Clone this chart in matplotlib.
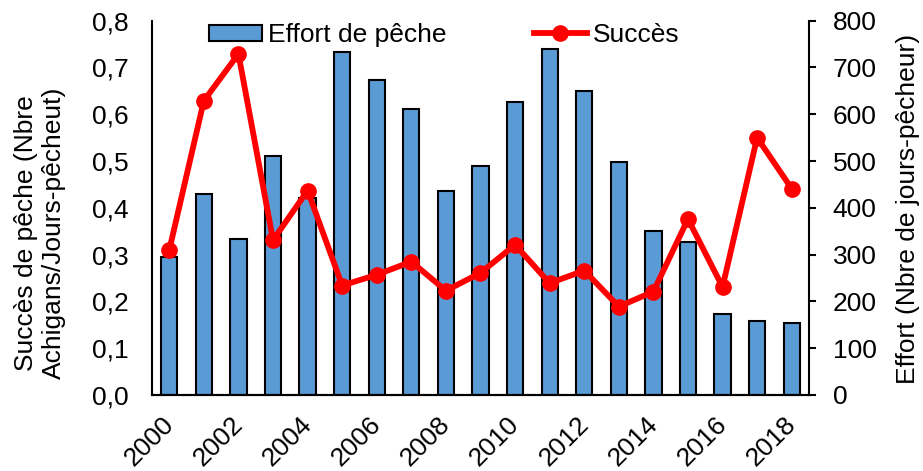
import matplotlib.pyplot as plt
from matplotlib.lines import Line2D
from matplotlib.patches import Patch
from matplotlib.transforms import ScaledTranslation

plt.rcParams['font.family'] = ['Liberation Sans', 'DejaVu Sans']

# Data
years = list(range(2000, 2019))
effort = [296, 429, 333, 510, 421, 733, 674, 612, 437, 489,
          627, 739, 650, 498, 351, 328, 173, 159, 154]
succes = [0.310, 0.629, 0.729, 0.331, 0.437, 0.234, 0.257, 0.285, 0.223, 0.261,
          0.321, 0.239, 0.266, 0.189, 0.221, 0.376, 0.231, 0.550, 0.441]
left_ticks = [0.0, 0.1, 0.2, 0.3, 0.4, 0.5, 0.6, 0.7, 0.8]
left_labels = ['0,0', '0,1', '0,2', '0,3', '0,4', '0,5', '0,6', '0,7', '0,8']
right_ticks = [0, 100, 200, 300, 400, 500, 600, 700, 800]
year_labels = [str(y) for y in years[::2]]

fs = 19
bar_color = '#5B9BD5'
line_color = '#FF0000'

fig = plt.figure(figsize=(9.23, 4.71), dpi=100)
ax = fig.add_axes([152 / 923, 1 - 395 / 471, (809 - 152) / 923, (395 - 20.7) / 471])
ax2 = ax.twinx()

# bars on the right axis, line on the left axis drawn on top
x = list(range(len(years)))
ax2.bar(x, effort, width=0.47, color=bar_color, edgecolor='black', linewidth=1.5)
ax.plot(x, succes, color=line_color, linewidth=4.2, marker='o', markersize=11)
ax.set_zorder(ax2.get_zorder() + 1)
ax.patch.set_visible(False)

ax.set_xlim(-0.5, len(years) - 0.5)
ax.set_ylim(0, 0.8)
ax2.set_ylim(0, 800)

ax.set_yticks(left_ticks)
ax.set_yticklabels(left_labels)
ax.tick_params(axis='y', length=0, pad=17, labelsize=fs)
ax2.set_yticks(right_ticks)
ax2.tick_params(axis='y', length=5, width=1.5, pad=12, labelsize=fs, direction='out')

ax.set_xticks(x[::2])
ax.set_xticklabels(year_labels, rotation=45, ha='right', rotation_mode='anchor')
ax.tick_params(axis='x', length=0, pad=12, labelsize=fs)
shift = ScaledTranslation(-8 / 100, 0, fig.dpi_scale_trans)
for lab in ax.get_xticklabels():
    lab.set_transform(lab.get_transform() + shift)

for a in (ax, ax2):
    a.spines['top'].set_visible(False)
    for s in ('left', 'right', 'bottom'):
        a.spines[s].set_linewidth(1.5)
ax.spines['right'].set_visible(False)
ax2.spines['left'].set_visible(False)

fig.text(40 / 923, 1 - 233 / 471, 'Succès de pêche (Nbre\nAchigans/Jours-pêcheut)',
         rotation=90, ha='center', va='center', multialignment='center', fontsize=fs)
fig.text(908 / 923, 1 - 209 / 471, 'Effort (Nbre de jours-pêcheur)',
         rotation=90, ha='center', va='center', fontsize=fs)

handles = [Patch(facecolor=bar_color, edgecolor='black', linewidth=1.5),
           Line2D([], [], color=line_color, linewidth=4.2, marker='o', markersize=11)]
ax.legend(handles, ['Effort de pêche', 'Succès'], loc='center', ncol=2,
          bbox_to_anchor=(0.445, 0.962), frameon=False, fontsize=fs,
          handlelength=2.0, handleheight=0.55, handletextpad=0.25, columnspacing=3.3,
          borderpad=0, borderaxespad=0)

fig.savefig('out.png', dpi=100)
